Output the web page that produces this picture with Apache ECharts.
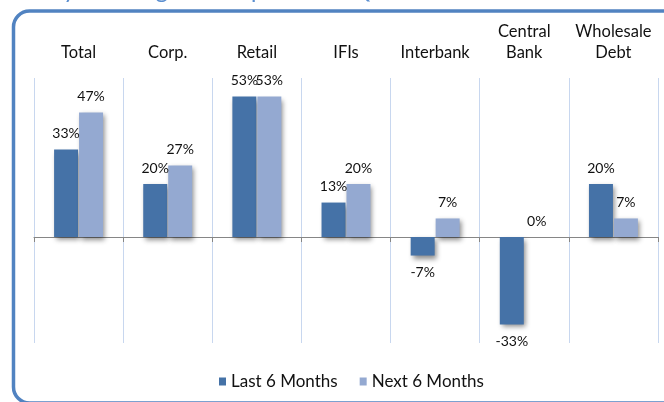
<!DOCTYPE html>
<html>
<head>
<meta charset="utf-8">
<script src="https://cdn.jsdelivr.net/npm/echarts@6/dist/echarts.min.js"></script>
<style>
  html, body { margin: 0; padding: 0; background: #fff; }
  #chart { width: 664px; height: 402px; }
</style>
</head>
<body>
<div id="chart"></div>
<script>
// data
var categories = ['Total', 'Corp.', 'Retail', 'IFIs', 'Interbank', 'Central\nBank', 'Wholesale\nDebt'];
var lastSix = [33, 20, 53, 13, -7, -33, 20];
var nextSix = [47, 27, 53, 20, 7, 0, 7];
var seriesNames = ['Last 6 Months', 'Next 6 Months'];
var titleText = 'Survey: funding needs questions Q4';

var FONT = 'Lato';
var darkBlue = '#4572A7';
var lightBlue = '#94A9D1';

function toData(arr) {
  return arr.map(function (v) {
    return {
      value: v,
      label: { position: v < 0 ? 'bottom' : 'top', distance: v < 0 ? 10 : 9 }
    };
  });
}

function barSeries(name, arr, color) {
  return {
    name: name,
    type: 'bar',
    xAxisIndex: 0,
    barWidth: 24,
    barGap: '4%',
    data: toData(arr),
    itemStyle: {
      color: color,
      shadowColor: 'rgba(0,0,0,0.45)',
      shadowBlur: 5,
      shadowOffsetX: 2,
      shadowOffsetY: 3
    },
    label: {
      show: true,
      formatter: '{c}%',
      fontFamily: FONT,
      fontSize: 14,
      color: '#111'
    }
  };
}

var chart = echarts.init(document.getElementById('chart'));
var option = {
  animation: false,
  grid: { left: 34, right: 6, top: 78, bottom: 59 },
  legend: {
    data: seriesNames,
    left: 214,
    top: 368,
    icon: 'rect',
    itemWidth: 7,
    itemHeight: 8,
    itemGap: 22,
    textStyle: { fontFamily: FONT, fontSize: 17, color: '#111' }
  },
  xAxis: [{
    type: 'category',
    position: 'top',
    data: categories,
    axisLine: { show: false, onZero: false },
    axisTick: { show: false },
    axisLabel: {
      fontFamily: FONT,
      fontSize: 16.5,
      color: '#111',
      lineHeight: 21,
      margin: 15,
      interval: 0
    },
    splitLine: { show: true, lineStyle: { color: '#C8D7EF', width: 1 } }
  }, {
    type: 'category',
    position: 'bottom',
    data: categories,
    axisLine: { show: true, onZero: true, lineStyle: { color: '#868686', width: 1 } },
    axisTick: { show: true, length: 5, lineStyle: { color: '#868686' } },
    axisLabel: { show: false },
    splitLine: { show: false }
  }],
  yAxis: {
    type: 'value',
    min: -40,
    max: 60,
    show: false
  },
  series: [
    barSeries(seriesNames[0], lastSix, darkBlue),
    barSeries(seriesNames[1], nextSix, lightBlue)
  ],
  graphic: [{
    type: 'rect',
    silent: true,
    shape: { x: 13.5, y: 11, width: 700, height: 392, r: 16 },
    style: { fill: 'none', stroke: '#5183C1', lineWidth: 3.5 }
  }, {
    type: 'text',
    silent: true,
    left: 4,
    top: -22,
    style: { text: titleText, fontFamily: FONT, fontSize: 24, fill: '#5B8FD0' }
  }]
};
chart.setOption(option);
</script>
</body>
</html>
